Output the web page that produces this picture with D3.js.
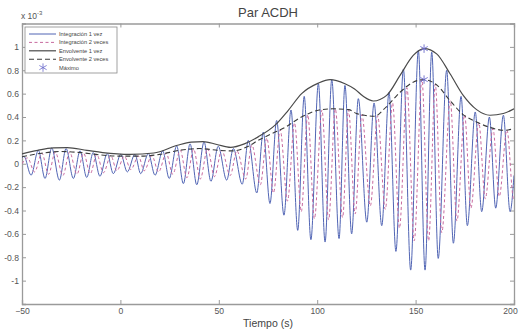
<!DOCTYPE html>
<html>
<head>
<meta charset="utf-8">
<script src="https://cdn.jsdelivr.net/npm/d3@7"></script>
<style>
  html, body { margin: 0; padding: 0; background: #fff; }
  svg { display: block; font-family: 'Liberation Sans', Arial, sans-serif; }
</style>
</head>
<body>
<div id="chart"></div>
<script>
// Integración 1 vez: extremes (time s, value x1e-3)
const int1Time = [-50, -49.0, -45.4, -41.7, -38.3, -34.9, -31.0, -27.6, -23.9, -20.5, -17.1, -13.8, -10.4, -6.7, -3.6,
  0.2, 3.5, 7.4, 10.3, 14.2, 17.6, 21.5, 24.8, 28.6, 32.0, 35.4, 38.8, 42.5, 46.0, 49.7, 54.0, 57.4, 61.9,
  65.0, 69.3, 72.6, 76.0, 79.4, 83.1, 86.7, 90.1, 93.4, 96.8, 100.6, 104.0, 107.4, 111.1, 114.1, 117.5,
  120.9, 125.2, 128.9, 132.8, 136.5, 140.0, 143.8, 147.5, 151.4, 154.8, 158.2, 161.5, 165.8, 169.2,
  173.1, 176.3, 180.3, 183.6, 187.5, 190.7, 194.6, 198.0, 200];
const int1Value = [0.05, 0.064, -0.098, 0.115, -0.126, 0.135, -0.14, 0.13, -0.126, 0.11, -0.117, 0.096, -0.107, 0.087, -0.085,
  0.081, -0.07, 0.081, -0.085, 0.087, -0.098, 0.11, -0.126, 0.152, -0.17, 0.17, -0.18, 0.186, -0.15, 0.15, -0.14, 0.13, -0.175,
  0.2, -0.25, 0.27, -0.34, 0.37, -0.44, 0.46, -0.57, 0.577, -0.65, 0.685, -0.67, 0.72, -0.64, 0.67, -0.60,
  0.557, -0.50, 0.52, -0.53, 0.61, -0.75, 0.81, -0.91, 0.97, -0.91, 0.955, -0.81, 0.80, -0.68,
  0.577, -0.53, 0.443, -0.41, 0.40, -0.38, 0.415, -0.41, -0.1];

// Integración 2 veces
const int2Time = [-50, -47.2, -43.6, -39.9, -36.5, -33.1, -29.2, -25.8, -22.1, -18.7, -15.3, -12.0, -8.6, -4.9, -1.8,
  2.0, 5.3, 9.2, 12.1, 16.0, 19.4, 23.3, 26.6, 30.4, 33.8, 37.2, 40.6, 44.3, 47.8, 51.5, 55.8, 59.2, 63.7,
  66.8, 71.1, 74.4, 77.8, 81.2, 84.9, 88.5, 91.9, 95.2, 98.6, 102.4, 105.8, 109.2, 112.9, 115.9, 119.3,
  122.7, 127.0, 130.7, 134.6, 138.3, 141.8, 145.6, 149.3, 153.2, 156.6, 160.0, 163.3, 167.6, 171.0,
  174.9, 178.1, 182.1, 185.4, 189.3, 192.5, 196.4, 199.8, 200];
const int2Value = [0.0, 0.05, -0.07, 0.09, -0.09, 0.1, -0.10, 0.1, -0.09, 0.09, -0.085, 0.08, -0.077, 0.07, -0.06,
  0.065, -0.05, 0.065, -0.06, 0.07, -0.07, 0.09, -0.09, 0.115, -0.12, 0.125, -0.13, 0.13, -0.11, 0.115, -0.10, 0.11, -0.13,
  0.16, -0.18, 0.22, -0.25, 0.29, -0.32, 0.35, -0.41, 0.42, -0.47, 0.46, -0.48, 0.47, -0.46, 0.46, -0.43,
  0.42, -0.36, 0.41, -0.39, 0.52, -0.55, 0.65, -0.66, 0.72, -0.66, 0.68, -0.59, 0.54, -0.49,
  0.42, -0.38, 0.35, -0.30, 0.30, -0.28, 0.29, -0.30, -0.29];

// Envolvente 1 vez
const env1Time = [-50, -42, -34, -27, -17, -9, 5, 17, 29, 36, 42, 49, 56, 63, 70, 78.6, 85.3, 92.1, 100.6, 106.5,
  114.1, 119, 123.4, 128.5, 135.3, 142.1, 148.8, 154.3, 160.7, 167.5, 174.2, 181.0, 187.8, 194.6, 200];
const env1Value = [0.085, 0.115, 0.135, 0.138, 0.115, 0.096, 0.081, 0.092, 0.158, 0.185, 0.19, 0.165, 0.14, 0.17, 0.23,
  0.33, 0.457, 0.6, 0.69, 0.72, 0.685, 0.64, 0.577, 0.537, 0.585, 0.756, 0.927, 0.985, 0.94, 0.77, 0.585,
  0.463, 0.415, 0.43, 0.47];

// Envolvente 2 veces
const env2Time = [-50, -40, -30, -20, -10, 0, 10, 20, 30, 40, 50, 57, 65, 70, 76, 84, 92, 101, 108, 116, 120, 124,
  129, 135, 142, 149, 154.3, 161, 167.5, 174, 181, 188, 195, 200];
const env2Value = [0.06, 0.09, 0.105, 0.095, 0.075, 0.065, 0.065, 0.08, 0.115, 0.13, 0.115, 0.11, 0.15, 0.2, 0.25,
  0.315, 0.4, 0.46, 0.47, 0.463, 0.43, 0.415, 0.406, 0.485, 0.61, 0.70, 0.72, 0.67, 0.54, 0.423, 0.357, 0.31, 0.286, 0.30];

// Máximo
const maxTime = [154.3, 154.3];
const maxValue = [0.985, 0.72];

const xTicks = [-50, 0, 50, 100, 150, 200];
const yTicks = [-1, -0.8, -0.6, -0.4, -0.2, 0, 0.2, 0.4, 0.6, 0.8, 1];
const legendLabels = ['Integración 1 vez', 'Integración 2 veces', 'Envolvente 1 vez', 'Envolvente 2 veces', 'Máximo'];

const width = 520, height = 333;
const margin = { top: 23.5, right: 6, bottom: 29, left: 22 };
const innerWidth = width - margin.left - margin.right;
const innerHeight = height - margin.top - margin.bottom;

const svg = d3.select('#chart').append('svg')
  .attr('width', width)
  .attr('height', height);

svg.append('defs').append('clipPath').attr('id', 'plot-clip')
  .append('rect').attr('width', innerWidth).attr('height', innerHeight);

const g = svg.append('g')
  .attr('transform', `translate(${margin.left},${margin.top})`);

const x = d3.scaleLinear().domain([-50, 200]).range([0, innerWidth]);
const y = d3.scaleLinear().domain([-1.2, 1.2]).range([innerHeight, 0]);

const axisColor = '#9a9a9a';
const textColor = '#555';

// 1. Axes (MATLAB style: ticks inside, full box)
const xAxis = g.append('g')
  .attr('transform', `translate(0,${innerHeight})`)
  .call(d3.axisBottom(x).tickValues(xTicks).tickSize(-4).tickPadding(4).tickFormat(d3.format('d')));
const xAxisTop = g.append('g')
  .call(d3.axisTop(x).tickValues(xTicks).tickSize(-4).tickFormat(''));
const yAxis = g.append('g')
  .call(d3.axisLeft(y).tickValues(yTicks).tickSize(-4).tickPadding(3).tickFormat(d => String(+d.toFixed(1))));
const yAxisRight = g.append('g')
  .attr('transform', `translate(${innerWidth},0)`)
  .call(d3.axisRight(y).tickValues(yTicks).tickSize(-4).tickFormat(''));

[xAxis, xAxisTop, yAxis, yAxisRight].forEach(a => {
  a.selectAll('.domain').attr('stroke', axisColor).attr('stroke-width', 1.3);
  a.selectAll('.tick line').attr('stroke', axisColor);
  a.selectAll('text').attr('fill', textColor).style('font-size', '8.6px');
});
// last x label sits on the image edge, nudge it in a little
xAxis.selectAll('.tick text').filter(d => d === 200).attr('dx', -4);

// 2. Series
const plot = g.append('g').attr('clip-path', 'url(#plot-clip)');

const line = d3.line()
  .x(d => x(d[0]))
  .y(d => y(d[1]))
  .curve(d3.curveMonotoneX);

const series = [
  { t: int1Time, v: int1Value, color: '#5064b4', width: 1, dash: null },
  { t: int2Time, v: int2Value, color: '#c86a9e', width: 1, dash: '3,2.5' },
  { t: env1Time, v: env1Value, color: '#4a4a4a', width: 1.2, dash: null },
  { t: env2Time, v: env2Value, color: '#3a3a3a', width: 1.1, dash: '5,3' }
];

series.forEach(s => {
  plot.append('path')
    .datum(d3.zip(s.t, s.v))
    .attr('fill', 'none')
    .attr('stroke', s.color)
    .attr('stroke-width', s.width)
    .attr('stroke-dasharray', s.dash)
    .attr('d', line);
});

// 3. Asterisk markers
const star = d3.symbol().type(d3.symbolAsterisk).size(50);
g.selectAll('.max-marker')
  .data(d3.zip(maxTime, maxValue))
  .enter()
  .append('path')
  .attr('class', 'max-marker')
  .attr('transform', d => `translate(${x(d[0])},${y(d[1])})`)
  .attr('d', star)
  .attr('fill', 'none')
  .attr('stroke', '#6a6acc')
  .attr('stroke-width', 0.9);

// 4. Legend
const legend = g.append('g').attr('transform', 'translate(3,3.5)');
legend.append('rect')
  .attr('width', 92)
  .attr('height', 46)
  .attr('fill', '#fff')
  .attr('stroke', '#8a8a8a')
  .attr('stroke-width', 0.8);

const legendStyles = series.concat([{ color: '#6a6acc', marker: true }]);
legendStyles.forEach((s, i) => {
  const ly = 7 + i * 8.4;
  if (s.marker) {
    legend.append('path')
      .attr('transform', `translate(18,${ly})`)
      .attr('d', star)
      .attr('fill', 'none')
      .attr('stroke', s.color)
      .attr('stroke-width', 0.8);
  } else {
    legend.append('line')
      .attr('x1', 4).attr('x2', 31)
      .attr('y1', ly).attr('y2', ly)
      .attr('stroke', s.color)
      .attr('stroke-width', s.width)
      .attr('stroke-dasharray', s.dash);
  }
  legend.append('text')
    .attr('x', 34)
    .attr('y', ly + 2)
    .attr('fill', '#444')
    .style('font-size', '5.7px')
    .text(legendLabels[i]);
});

// 5. Titles
svg.append('text')
  .attr('x', margin.left + innerWidth / 2)
  .attr('y', 17)
  .attr('text-anchor', 'middle')
  .attr('fill', '#444')
  .style('font-size', '13px')
  .text('Par ACDH');

svg.append('text')
  .attr('x', margin.left + innerWidth / 2)
  .attr('y', 327)
  .attr('text-anchor', 'middle')
  .attr('fill', '#444')
  .style('font-size', '10.5px')
  .text('Tiempo (s)');

const expo = svg.append('text')
  .attr('x', 21)
  .attr('y', 19)
  .attr('fill', textColor)
  .style('font-size', '8.5px');
expo.append('tspan').text('x 10');
expo.append('tspan').attr('dy', -4).style('font-size', '6px').text('-3');
</script>
</body>
</html>
